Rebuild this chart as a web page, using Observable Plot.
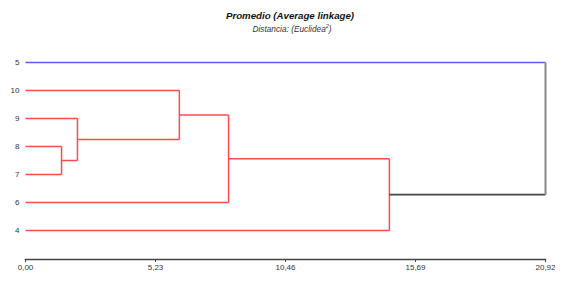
<!DOCTYPE html>
<html><head><meta charset="utf-8">
<script src="https://cdn.jsdelivr.net/npm/d3@7"></script>
<script src="https://cdn.jsdelivr.net/npm/@observablehq/plot@0.6"></script>
<style>
body{margin:0;background:#fff;font-family:"Liberation Sans",Arial,sans-serif;}
#wrap{position:relative;width:567px;height:281px;}
#title{position:absolute;top:10px;left:0;width:580px;text-align:center;font-size:9.7px;line-height:12px;font-weight:bold;font-style:italic;color:#111;}
#sub{position:absolute;top:21px;left:0;width:584px;text-align:center;font-size:8.3px;line-height:11px;font-style:italic;color:#333;}
#sub sup{font-size:5.5px;}
#chart{position:absolute;top:40px;left:0;}
</style></head><body>
<div id="wrap">
<div id="title">Promedio (Average linkage)</div>
<div id="sub">Distancia: (Euclidea<sup>2</sup>)</div>
<div id="chart"></div>
</div>
<script>
// Leaf order top to bottom
const leaves = ["5","10","9","8","7","6","4"];
// Merge steps: [left cluster, right cluster, distance]
const mergeA = ["8","87","987","10987","610987","4610987"];
const mergeB = ["7","9","10","6","4","5"];
const mergeName = ["87","987","10987","610987","4610987","all"];
const mergeDist = [1.45, 2.09, 6.19, 8.17, 14.64, 20.92];
const xTicks = [0, 5.23, 10.46, 15.69, 20.92];

const RED = "#ff4a4a", BLUE = "#5a5aff", DARK = "#444";
// node positions
const node = {};
leaves.forEach((l, i) => node[l] = {x: 0, y: i});
const segs = [];
mergeA.forEach((a, k) => {
  const b = mergeB[k], d = mergeDist[k];
  const na = node[a], nb = node[b];
  const last = k === mergeA.length - 1;
  const colA = last ? DARK : RED;
  const colB = last ? (b === "5" ? BLUE : DARK) : RED;
  segs.push({x1: na.x, y1: na.y, x2: d, y2: na.y, c: colA, w: last ? 1.6 : 1.5});
  segs.push({x1: nb.x, y1: nb.y, x2: d, y2: nb.y, c: colB, w: 1.5});
  segs.push({x1: d, y1: na.y, x2: d, y2: nb.y, c: last ? "#888" : RED, w: last ? 2 : 1.5});
  node[mergeName[k]] = {x: d, y: (na.y + nb.y) / 2};
});

const plot = Plot.plot({
  width: 567, height: 241,
  marginLeft: 25, marginRight: 22, marginTop: 0, marginBottom: 22,
  style: {fontFamily: "Liberation Sans, Arial, sans-serif", fontSize: "8px", color: "#333"},
  x: {domain: [0, 20.92]},
  y: {domain: [0, 6], range: [22, 190]},
  marks: [
    Plot.frame({anchor: "bottom", stroke: "#444", strokeWidth: 1.5}),
    Plot.axisX({ticks: xTicks, tickSize: 3, tickPadding: 2, tickFormat: d => d.toFixed(2).replace(".", ","), label: null, stroke: "#444"}),
    Plot.axisY({ticks: d3.range(leaves.length), tickSize: 0, tickPadding: 6, tickFormat: i => leaves[i], label: null}),
    Plot.link(segs, {x1: "x1", y1: "y1", x2: "x2", y2: "y2", stroke: "c", strokeWidth: "w"})
  ]
});
document.getElementById("chart").appendChild(plot);
</script>
</body></html>
